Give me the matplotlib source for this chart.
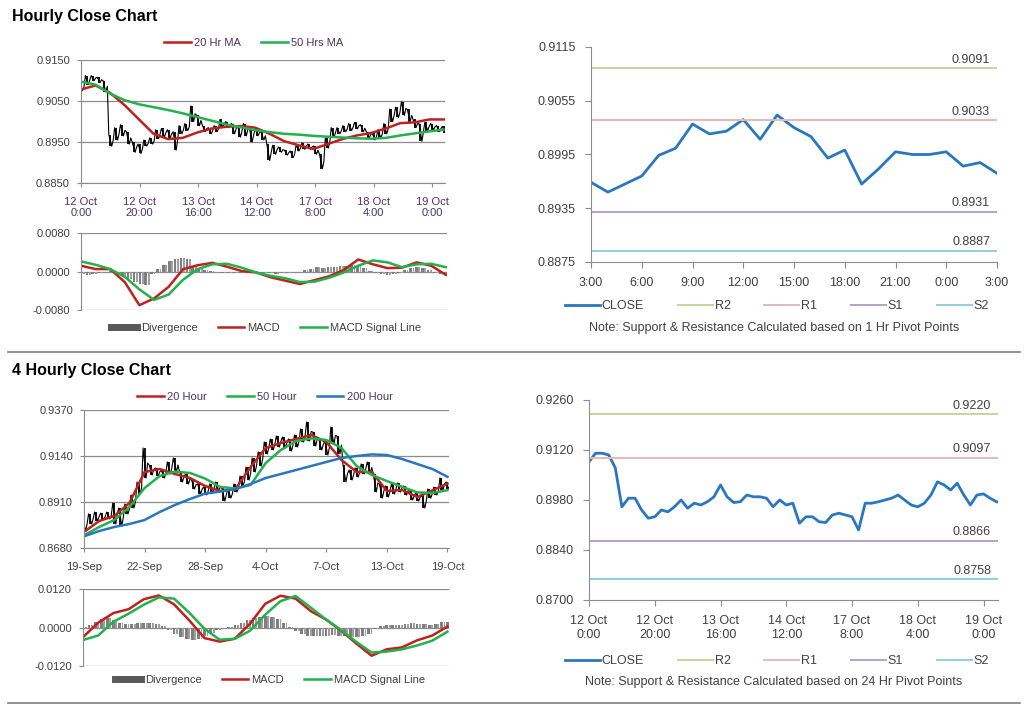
import numpy as np
import matplotlib.pyplot as plt
from matplotlib.lines import Line2D

plt.rcParams['font.family'] = ['Liberation Sans', 'DejaVu Sans']

# ---------- hourly close chart (bars every 2 hours) ----------
hr_hi = [.9092, .9112, .9112, .9108, .9100, .8968, .8985, .8992, .8975, .8950,
         .8945, .8955, .8960, .8980, .8983, .8980, .8975, .8990, .8995, .9038,
         .9015, .8990, .8985, .8990, .9005, .9000, .8995, .8990, .8995, .8985,
         .8982, .8975, .8945, .8942, .8938, .8930, .8928, .8942, .8948, .8945,
         .8940, .8920, .8960, .8985, .8985, .8990, .8995, .8998, .8992, .8975,
         .8972, .8980, .8995, .9030, .9035, .9048, .9030, .9005, .8995, .8998,
         .8995, .8990, .8988]
hr_lo = [.9075, .9090, .9100, .9095, .9072, .8940, .8955, .8965, .8945, .8925,
         .8922, .8940, .8945, .8958, .8962, .8960, .8930, .8970, .8978, .9000,
         .8990, .8975, .8970, .8975, .8985, .8985, .8970, .8962, .8965, .8950,
         .8965, .8955, .8905, .8920, .8925, .8918, .8912, .8928, .8932, .8932,
         .8920, .8885, .8935, .8962, .8970, .8975, .8978, .8982, .8975, .8960,
         .8955, .8960, .8970, .9000, .9010, .9015, .9000, .8985, .8952, .8978,
         .8980, .8975, .8972]
hr_ma20 = [.9078, .9088, .9070, .9040, .9005, .8970, .8957, .8960, .8973, .8983,
           .8987, .8989, .8985, .8970, .8952, .8942, .8933, .8945, .8957, .8966,
           .8972, .8983, .8996, .8998, .9005, .9005]
hr_ma50 = [.9097, .9090, .9068, .9052, .9042, .9035, .9028, .9020, .9011, .9002,
           .8993, .8986, .8979, .8974, .8970, .8968, .8965, .8963, .8961, .8959,
           .8958, .8960, .8966, .8971, .8976, .8980]
hr_macd = [.0012, .0005, .0005, -.0022, -.0070, -.0056, -.0032, .0005, .0013, .0018,
           .0010, .0001, -.0002, -.0012, -.0019, -.0026, -.0018, -.0010, .0003, .0025,
           .0015, .0007, .0008, .0019, .0012, -.0007]
hr_signal = [.0021, .0014, .0005, -.0011, -.0037, -.0059, -.0048, -.0017, .0005, .0015,
             .0016, .0008, -.0002, -.0009, -.0014, -.0022, -.0021, -.0013, -.0002, .0012,
             .0023, .0019, .0009, .0015, .0016, .0009]
hr_div = [-.0005, -.0007, -.0006, -.0004, .0000, .0001, -.0006, -.0010, -.0016, -.0022,
          -.0026, -.0028, -.0005, .0006, .0014, .0022, .0026, .0028, .0027, .0012,
          .0006, .0003, .0001, -.0002, -.0003, -.0004, -.0004, -.0003, -.0002, -.0003,
          -.0002, -.0003, -.0004, -.0005, -.0004, -.0003, -.0002, -.0001, .0003, .0006,
          .0009, .0008, .0009, .0010, .0011, .0012, .0013, .0012, .0008, .0002,
          -.0004, -.0006, -.0007, -.0006, -.0004, .0004, .0008, .0010, .0008, .0003,
          -.0003, -.0006, -.0008]
hr_ticks = ['12 Oct\n0:00', '12 Oct\n20:00', '13 Oct\n16:00', '14 Oct\n12:00',
            '17 Oct\n8:00', '18 Oct\n4:00', '19 Oct\n0:00']

# ---------- 1 hr pivot chart ----------
pv1_labels = ['3:00', '6:00', '9:00', '12:00', '15:00', '18:00', '21:00', '0:00', '3:00']
pv1_close = [.8964, .8953, .8962, .8971, .8994, .9002, .9029, .9018, .9021, .9034,
             .9012, .9039, .9025, .9015, .8991, .9000, .8962, .8979, .8998, .8995,
             .8995, .8998, .8982, .8986, .8974]
pv1_levels = [.9091, .9033, .8931, .8887]

# ---------- 4 hourly close chart (bars every 2 periods) ----------
h4_hi = [.8830, .8850, .8860, .8855, .8860, .8905, .8880, .8900, .8945, .9010,
         .9180, .9095, .9080, .9070, .9110, .9130, .9065, .9050, .9020, .9000,
         .8985, .9000, .9010, .8980, .8975, .9000, .9040, .9085, .9130, .9160,
         .9210, .9225, .9240, .9235, .9225, .9245, .9275, .9310, .9260, .9225,
         .9215, .9285, .9240, .9095, .9070, .9080, .9100, .9110, .9050, .9000,
         .8990, .9000, .9005, .8990, .8965, .8955, .8945, .8975, .8985, .9030,
         .9010]
h4_lo = [.8765, .8800, .8815, .8820, .8825, .8800, .8790, .8850, .8880, .8950,
         .9030, .9045, .9040, .9030, .9050, .9060, .9010, .9000, .8975, .8950,
         .8945, .8955, .8965, .8915, .8930, .8960, .8990, .9020, .9060, .9090,
         .9150, .9170, .9185, .9180, .9165, .9185, .9210, .9215, .9190, .9170,
         .9145, .9200, .9150, .9010, .9020, .9035, .9050, .9055, .8960, .8930,
         .8935, .8950, .8960, .8945, .8920, .8915, .8880, .8930, .8945, .8970,
         .8975]
h4_ma20 = [.8760, .8815, .8840, .8905, .9060, .9075, .9050, .9030, .8990, .8965,
           .8975, .9085, .9180, .9205, .9225, .9245, .9210, .9120, .9060, .9060,
           .8965, .8970, .8935, .8968, .9002]
h4_ma50 = [.8743, .8785, .8820, .8885, .8980, .9040, .9062, .9055, .9027, .8985,
           .8978, .8995, .9105, .9170, .9215, .9228, .9220, .9180, .9090, .9045,
           .9015, .8986, .8958, .8955, .8969]
h4_ma200 = [.8738, .8765, .8785, .8800, .8820, .8860, .8895, .8925, .8952, .8962,
            .8975, .9000, .9030, .9050, .9070, .9090, .9110, .9130, .9140, .9148,
            .9145, .9125, .9100, .9075, .9036]
h4_macd = [-.0030, .0015, .0045, .0057, .0088, .0100, .0072, .0022, -.0033, -.0044,
           -.0035, .0012, .0074, .0099, .0090, .0051, .0025, -.0010, -.0050, -.0088,
           -.0068, -.0062, -.0040, -.0025, .0003]
h4_signal = [-.0039, -.0025, .0018, .0043, .0071, .0094, .0090, .0046, -.0004, -.0038,
             -.0035, -.0010, .0040, .0082, .0098, .0062, .0025, -.0008, -.0045, -.0078,
             -.0075, -.0068, -.0056, -.0041, -.0013]
h4_div = [.0003, .0008, .0018, .0025, .0030, .0022, .0013, .0010, .0011, .0014,
          .0015, .0014, .0010, .0004, -.0008, -.0020, -.0030, -.0036, -.0038, -.0035,
          -.0028, -.0018, -.0008, -.0003, .0002, .0008, .0015, .0024, .0030, .0033,
          .0035, .0032, .0025, .0015, .0003, -.0010, -.0020, -.0025, -.0027, -.0027,
          -.0025, -.0024, -.0026, -.0028, -.0030, -.0030, -.0028, -.0020, -.0005, .0004,
          .0008, .0007, .0009, .0012, .0013, .0011, .0010, .0008, .0012, .0018,
          .0018]
h4_ticks = ['19-Sep', '22-Sep', '28-Sep', '4-Oct', '7-Oct', '13-Oct', '19-Oct']

# ---------- 24 hr pivot chart ----------
pv24_close = [.9087, .9111, .9111, .9106, .9070, .8961, .8985, .8985, .8952, .8929,
              .8933, .8952, .8947, .8961, .8980, .8957, .8971, .8966, .8975, .8989,
              .9022, .8989, .8973, .8975, .8994, .8989, .8989, .8985, .8961, .8980,
              .8966, .8971, .8915, .8933, .8933, .8919, .8917, .8938, .8943, .8938,
              .8933, .8896, .8971, .8971, .8975, .8980, .8985, .8994, .8980, .8966,
              .8961, .8971, .8994, .9031, .9022, .9008, .9027, .8994, .8966, .8994,
              .8997, .8985, .8975]
pv24_levels = [.9220, .9097, .8866, .8758]

level_names = ['R2', 'R1', 'S1', 'S2']
level_colors = ['#c3d69b', '#e6b9b8', '#b3a2c7', '#93cddd']

RED, GREEN, BLUE = '#c0201e', '#22b14c', '#2a77c0'
GRID = '#8c8c8c'
TXT = '#404040'
PURP = '#4a3560'

fig = plt.figure(figsize=(10.24, 7.06), dpi=100)


def box(l, t, r, b):
    return fig.add_axes([l / 1024, 1 - b / 706, (r - l) / 1024, (b - t) / 706])


def fy(y):
    return 1 - y / 706


def style_left(ax, ticks):
    ax.set_yticks(ticks)
    ax.yaxis.set_major_formatter(plt.FormatStrFormatter('%.4f'))
    ax.grid(axis='y', color=GRID, lw=0.9)
    ax.set_axisbelow(True)
    for s in ['top', 'right']:
        ax.spines[s].set_visible(False)
    ax.spines['left'].set_color(GRID)
    ax.spines['bottom'].set_color(GRID)
    ax.tick_params(colors=GRID, labelcolor=TXT, labelsize=8, length=3, pad=5)


def price_panel(ax, hi, lo, mas, cols, xmax, yl, yt):
    x = np.arange(len(hi)) * 2
    ax.vlines(x, lo, hi, color='black', lw=1.3)
    # zigzag between each bar's high and low to give the dense bar texture
    zx = np.column_stack([x - 0.5, x + 0.5, x + 1.0]).ravel()
    zy = np.column_stack([hi, lo, (np.array(hi) + np.array(lo)) / 2]).ravel()
    ax.plot(zx, zy, color='black', lw=0.8)
    for m, c in zip(mas, cols):
        ax.plot(np.linspace(0, x[-1], len(m)), m, color=c, lw=1.8)
    ax.set_xlim(0, xmax)
    ax.set_ylim(*yl)
    style_left(ax, yt)


def macd_panel(ax, div, macd, sig, xmax, lim, xend):
    x = np.arange(len(div)) * 2
    ax.bar(x, div, width=0.9, color='#7f7f7f')
    ax.bar(x + 1, div, width=0.6, color='#a0a0a0')
    ax.plot(np.linspace(0, xend, len(macd)), macd, color=RED, lw=1.8)
    ax.plot(np.linspace(0, xend, len(sig)), sig, color=GREEN, lw=1.8)
    ax.set_xlim(0, xmax)
    ax.set_ylim(-lim, lim)
    style_left(ax, [-lim, 0, lim])
    ax.spines['bottom'].set_visible(False)
    ax.set_xticks([])


def pivot_panel(ax, close, levels, step, xmax, yl, yt):
    x = np.arange(len(close)) * step
    ax.plot(x, close, color=BLUE, lw=2)
    for v, c in zip(levels, level_colors):
        ax.axhline(v, color=c, lw=1.4)
        ax.annotate('%.4f' % v, xy=(xmax, v), xytext=(-5, 2), textcoords='offset points',
                    ha='right', va='bottom', fontsize=9, color=TXT)
    ax.set_xlim(0, xmax)
    ax.set_ylim(*yl)
    ax.set_yticks(yt)
    ax.yaxis.set_major_formatter(plt.FormatStrFormatter('%.4f'))
    for s in ['top', 'right']:
        ax.spines[s].set_visible(False)
    ax.spines['left'].set_color(GRID)
    ax.spines['bottom'].set_color(GRID)
    ax.tick_params(colors=GRID, labelcolor=TXT, labelsize=9, length=4, pad=7)


def pivot_legend(y):
    h = [Line2D([], [], color=BLUE, lw=2)] + [Line2D([], [], color=c, lw=1.4) for c in level_colors]
    fig.legend(h, ['CLOSE'] + level_names, loc='center', bbox_to_anchor=(777 / 1024, fy(y)),
               ncol=5, frameon=False, fontsize=9, handlelength=2.8, handletextpad=0.15,
               columnspacing=2.7, labelcolor=TXT)


# ===== Hourly section =====
fig.text(12 / 1024, fy(16), 'Hourly Close Chart', fontsize=11.5, fontweight='bold', va='center')

ax1 = box(81, 60, 445, 183)
price_panel(ax1, hr_hi, hr_lo, [hr_ma20, hr_ma50], [RED, GREEN], 124.4, (.8850, .9150),
            [.8850, .8950, .9050, .9150])
ax1.set_xticks(np.arange(0, 121, 20))
ax1.set_xticklabels(hr_ticks, color=PURP, linespacing=1.2)
ax1.tick_params(axis='x', pad=7)
fig.legend([Line2D([], [], color=RED, lw=1.8), Line2D([], [], color=GREEN, lw=1.8)],
           ['20 Hr MA', '50 Hrs MA'], loc='center', bbox_to_anchor=(254 / 1024, fy(43)),
           ncol=2, frameon=False, fontsize=8, handlelength=2.4, handletextpad=0.3,
           columnspacing=1.8, labelcolor=PURP)

ax2 = box(81, 233, 447, 310)
macd_panel(ax2, hr_div, hr_macd, hr_signal, 124.4, 0.008, 124)
fig.legend([Line2D([], [], color='#595959', lw=5), Line2D([], [], color=RED, lw=1.8),
            Line2D([], [], color=GREEN, lw=1.8)],
           ['Divergence', 'MACD', 'MACD Signal Line'], loc='center',
           bbox_to_anchor=(266 / 1024, fy(328)), ncol=3, frameon=False, fontsize=8,
           handlelength=2.4, handletextpad=0.3, columnspacing=1.8, labelcolor=TXT)

ax3 = box(591, 47, 997, 262)
pivot_panel(ax3, pv1_close, pv1_levels, 1, 24, (.8875, .9115), [.8875, .8935, .8995, .9055, .9115])
ax3.set_xticks(np.arange(0, 25, 3))
ax3.set_xticklabels(pv1_labels)
pivot_legend(306)
fig.text(774 / 1024, fy(328), 'Note: Support & Resistance Calculated based on 1 Hr Pivot Points',
         ha='center', va='center', fontsize=9, color=TXT)

fig.add_artist(Line2D([8 / 1024, 1020 / 1024], [fy(352), fy(352)], color='#7f7f7f', lw=1.2))

# ===== 4 Hourly section =====
fig.text(12 / 1024, fy(370), '4 Hourly Close Chart', fontsize=11.5, fontweight='bold', va='center')

ax4 = box(84, 410, 449, 548)
price_panel(ax4, h4_hi, h4_lo, [h4_ma20, h4_ma50, h4_ma200], [RED, GREEN, BLUE], 120.5,
            (.8680, .9370), [.8680, .8910, .9140, .9370])
ax4.set_xticks(np.arange(0, 121, 20))
ax4.set_xticklabels(h4_ticks)
ax4.tick_params(axis='x', pad=7)
fig.legend([Line2D([], [], color=RED, lw=1.8), Line2D([], [], color=GREEN, lw=1.8),
            Line2D([], [], color=BLUE, lw=1.8)],
           ['20 Hour', '50 Hour', '200 Hour'], loc='center', bbox_to_anchor=(265 / 1024, fy(397)),
           ncol=3, frameon=False, fontsize=8, handlelength=2.4, handletextpad=0.3,
           columnspacing=1.8, labelcolor=PURP)

ax5 = box(83, 589, 449, 666)
macd_panel(ax5, h4_div, h4_macd, h4_signal, 120.5, 0.012, 120)
fig.legend([Line2D([], [], color='#595959', lw=5), Line2D([], [], color=RED, lw=1.8),
            Line2D([], [], color=GREEN, lw=1.8)],
           ['Divergence', 'MACD', 'MACD Signal Line'], loc='center',
           bbox_to_anchor=(270 / 1024, fy(680)), ncol=3, frameon=False, fontsize=8,
           handlelength=2.4, handletextpad=0.3, columnspacing=1.8, labelcolor=TXT)

ax6 = box(589, 400, 998, 600)
pivot_panel(ax6, pv24_close, pv24_levels, 2, 124.4, (.8700, .9260), [.8700, .8840, .8980, .9120, .9260])
ax6.set_xticks(np.arange(0, 121, 20))
ax6.set_xticklabels(hr_ticks, linespacing=1.2)
pivot_legend(661)
fig.text(774 / 1024, fy(682), 'Note: Support & Resistance Calculated based on 24 Hr Pivot Points',
         ha='center', va='center', fontsize=9, color=TXT)

fig.add_artist(Line2D([8 / 1024, 1020 / 1024], [fy(703), fy(703)], color='#7f7f7f', lw=1.2))

fig.savefig('out.png', dpi=100, facecolor='white')
